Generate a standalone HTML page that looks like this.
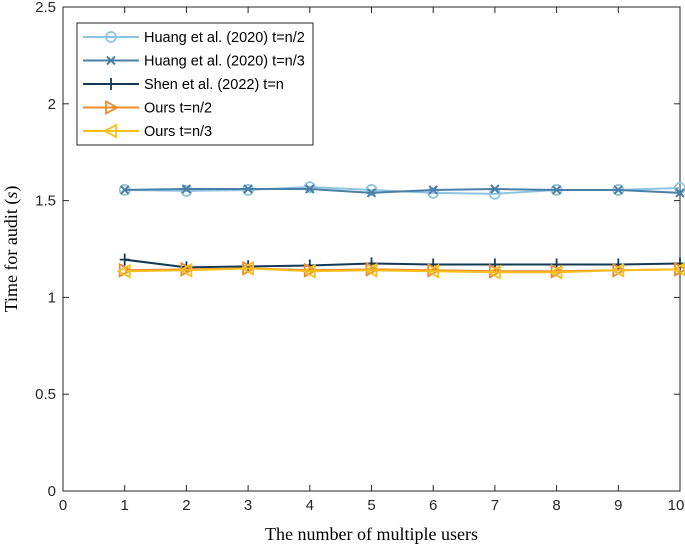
<!DOCTYPE html>
<html><head><meta charset="utf-8"><style>
body{margin:0;background:#fff;}
svg{display:block;}
</style></head><body>
<svg id="chart" width="685" height="545" xmlns="http://www.w3.org/2000/svg"></svg>
<script>
const categories=[1,2,3,4,5,6,7,8,9,10];
const huangHalf=[1.555,1.55,1.555,1.57,1.555,1.54,1.535,1.555,1.555,1.565];
const huangThird=[1.555,1.56,1.56,1.56,1.54,1.555,1.56,1.555,1.555,1.54];
const shen=[1.195,1.155,1.16,1.165,1.175,1.17,1.17,1.17,1.17,1.175];
const oursHalf=[1.14,1.145,1.15,1.14,1.145,1.14,1.135,1.135,1.14,1.145];
const oursThird=[1.135,1.14,1.15,1.135,1.14,1.135,1.13,1.13,1.14,1.145];
const xTicks=[0,1,2,3,4,5,6,7,8,9,10];
const yTicks=[0,0.5,1,1.5,2,2.5];
const yTickLabels=["0","0.5","1","1.5","2","2.5"];
const seriesNames=["Huang et al. (2020) t=n/2","Huang et al. (2020) t=n/3","Shen et al. (2022) t=n","Ours t=n/2","Ours t=n/3"];

const NS="http://www.w3.org/2000/svg";
const svg=document.getElementById('chart');
const L=63,R=680,T=7,B=491;
const xs=v=>L+(R-L)*v/10;
const ys=v=>B-(B-T)*v/2.5;
function el(tag,attrs,parent){const e=document.createElementNS(NS,tag);for(const k in attrs)e.setAttribute(k,attrs[k]);(parent||svg).appendChild(e);return e;}

const frame=el('rect',{x:L,y:T,width:R-L,height:B-T,fill:'none',stroke:'#262626','stroke-width':1});



xTicks.forEach(t=>{
  const x=xs(t);
  el('line',{x1:x,y1:B,x2:x,y2:B-6,stroke:'#262626'});
  el('line',{x1:x,y1:T,x2:x,y2:T+6,stroke:'#262626'});
  const tx=el('text',{x:Math.min(x,676),y:B+19,'text-anchor':'middle','font-family':'Liberation Sans, sans-serif','font-size':15,fill:'#262626'});
  tx.textContent=t;
  
  
});
yTicks.forEach((t,i)=>{
  const y=ys(t);
  el('line',{x1:L,y1:y,x2:L+6,y2:y,stroke:'#262626'});
  el('line',{x1:R,y1:y,x2:R-6,y2:y,stroke:'#262626'});
  const tx=el('text',{x:L-7,y:y+5,'text-anchor':'end','font-family':'Liberation Sans, sans-serif','font-size':15,fill:'#262626'});
  tx.textContent=yTickLabels[i];
  
  
});
const xt=el('text',{x:(L+R)/2,y:540,'text-anchor':'middle','font-family':'Liberation Serif, serif','font-size':18,fill:'#000'});
xt.textContent='The number of multiple users';


const yt=el('text',{x:0,y:0,'text-anchor':'middle','font-family':'Liberation Serif, serif','font-size':18,fill:'#000',transform:'translate(17,'+((T+B)/2)+') rotate(-90)'});
yt.innerHTML='Time for audit (<tspan font-style="italic">s</tspan>)';



function marker(g,type,x,y,color){
  if(type==='o')el('circle',{cx:x,cy:y,r:5,fill:'none',stroke:color,'stroke-width':1.8},g);
  else if(type==='x'){el('path',{d:`M${x-4} ${y-4}L${x+4} ${y+4}M${x-4} ${y+4}L${x+4} ${y-4}`,stroke:color,'stroke-width':2},g);}
  else if(type==='+'){el('path',{d:`M${x-5} ${y}L${x+5} ${y}M${x} ${y-6}L${x} ${y+6}`,stroke:color,'stroke-width':1.8},g);}
  else if(type==='>')el('path',{d:`M${x-5} ${y-6}L${x+6} ${y}L${x-5} ${y+6}Z`,fill:'none',stroke:color,'stroke-width':1.8},g);
  else if(type==='<')el('path',{d:`M${x+5} ${y-6}L${x-6} ${y}L${x+5} ${y+6}Z`,fill:'none',stroke:color,'stroke-width':1.8},g);
}
const series=[
 {d:huangHalf,c:'#8fc4e0',m:'o',n:'series-huang-half'},
 {d:huangThird,c:'#4a7fa6',m:'x',n:'series-huang-third'},
 {d:shen,c:'#123a55',m:'+',n:'series-shen'},
 {d:oursHalf,c:'#f0892a',m:'>',n:'series-ours-half'},
 {d:oursThird,c:'#f8be1e',m:'<',n:'series-ours-third'}
];
series.forEach(s=>{
  const g=el('g',{});
  
  
  el('polyline',{points:s.d.map((v,i)=>xs(categories[i])+','+ys(v)).join(' '),fill:'none',stroke:s.c,'stroke-width':2},g);
  s.d.forEach((v,i)=>marker(g,s.m,xs(categories[i]),ys(v),s.c));
});

const lg=el('g',{});


el('rect',{x:77,y:23,width:236,height:122,fill:'#fff',stroke:'#262626','stroke-width':1},lg);
series.forEach((s,i)=>{
  const y=37+i*23.5;
  const e=el('g',{},lg);
  
  
  el('line',{x1:83,y1:y,x2:139,y2:y,stroke:s.c,'stroke-width':2},e);
  marker(e,s.m,111,y,s.c);
  const t=el('text',{x:144,y:y+5,'font-family':'Liberation Sans, sans-serif','font-size':14.5,fill:'#000'},e);
  t.textContent=seriesNames[i];
});
</script>
</body></html>
